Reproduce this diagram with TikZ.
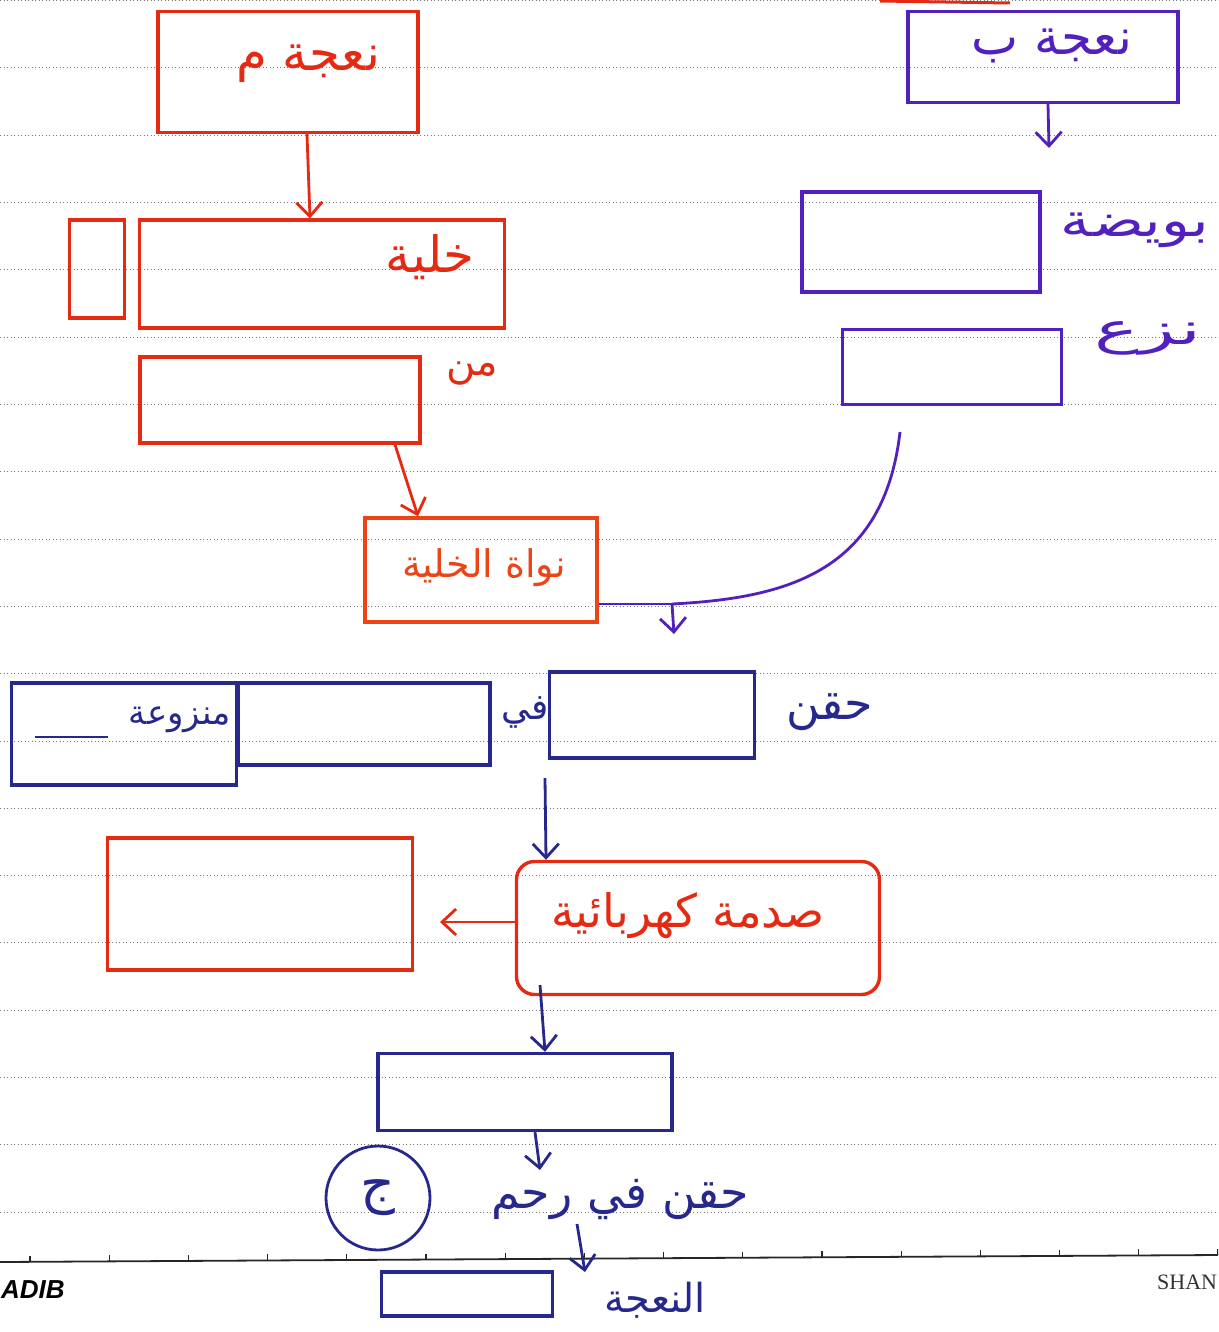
\documentclass[tikz,border=0pt]{standalone}
\usepackage{fontspec}
\setsansfont{Liberation Sans}
\newfontfamily\arabicfont[Script=Arabic]{DejaVu Sans}
\newfontfamily\brandserif{Liberation Serif}
\TeXXeTstate=1
\usetikzlibrary{arrows.meta,calc}
\definecolor{inkred}{RGB}{228,42,18}
\definecolor{inkorange}{RGB}{236,68,22}
\definecolor{inkpurple}{RGB}{82,32,190}
\definecolor{inknavy}{RGB}{38,40,140}
\definecolor{ruling}{RGB}{120,120,120}
\newcommand\artext[1]{{\arabicfont\beginR #1\endR}}
\newcommand\fs[1]{\fontsize{#1}{#1}\selectfont}
\begin{document}
\begin{tikzpicture}[x=1pt,y=-1pt,
  inkbox/.style={draw, rectangle, line width=3.4pt, inner sep=0pt},
  redbox/.style={inkbox, draw=inkred},
  orangebox/.style={inkbox, draw=inkorange},
  purplebox/.style={inkbox, draw=inkpurple},
  navybox/.style={inkbox, draw=inknavy},
  word/.style={inner sep=0pt, font=\fs{34}},
  redword/.style={word, text=inkred},
  orangeword/.style={word, text=inkorange},
  purpleword/.style={word, text=inkpurple},
  navyword/.style={word, text=inknavy},
  tip/.style={-{Straight Barb[length=14pt,width=26pt]}, line width=2.8pt},
  redarrow/.style={tip, draw=inkred},
  purplearrow/.style={tip, draw=inkpurple},
  navyarrow/.style={tip, draw=inknavy},
  ruled/.style={draw=ruling, line width=1pt, dash pattern=on 1.2pt off 2.3pt}
]
\useasboundingbox (0,0) rectangle (1218,1332);
\fill[white] (0,0) rectangle (1218,1332);
\clip (0,0) rectangle (1218,1332);

% notebook ruling
\foreach \n in {0,...,18}
  \draw[ruled] (0,{0.7+67.3*\n}) -- (1218,{0.7+67.3*\n});
\draw[line width=1.8pt, black!85] (0,1262) -- (1218,1255);
\foreach \k in {0,...,15}
  \draw[line width=1.2pt, black!85] ({30+79.2*\k},{1262-7*(30+79.2*\k)/1218}) -- ++(0,-6);
\node[anchor=west, inner sep=0pt, font=\fontsize{26}{30}\sffamily\bfseries\itshape] (brandleft) at (1,1290) {ADIB};
\node[anchor=west, inner sep=0pt, text=black!80, font=\fontsize{22}{26}\brandserif] (brandright) at (1157,1282) {SHAN};
\draw[inkred, line width=3pt] (880,1) -- (1010,3);

% left branch: body cell of sheep M
\node[redbox, minimum width=260, minimum height=121] (sheepM) at (288,72) {};
\node[redword, font=\fs{50}] (sheepMtxt) at (308,64) {\artext{نعجة م}};
\node[redbox, minimum width=55, minimum height=98] (cellbar) at (97,269) {};
\node[redbox, minimum width=365, minimum height=108] (cell) at (322,274) {};
\node[redword, font=\fs{50}] (celltxt) at (430,257) {\artext{خلية}};
\node[redbox, minimum width=280, minimum height=86] (frombox) at (280,400) {};
\node[redword, font=\fs{40}] (fromtxt) at (472,374) {\artext{من}};
\node[orangebox, minimum width=232, minimum height=104] (nucleus) at (481,570) {};
\node[orangeword, font=\fs{38}] (nucleustxt) at (484,568) {\artext{نواة الخلية}};

\draw[redarrow] ([xshift=19]sheepM.south) -- ([xshift=-12]cell.north);
\draw[redarrow] ([xshift=115]frombox.south) -- ([xshift=-63]nucleus.north);

% right branch: egg of sheep B
\node[purplebox, minimum width=270, minimum height=91] (sheepB) at (1043,57) {};
\node[purpleword, font=\fs{50}] (sheepBtxt) at (1052,46) {\artext{نعجة ب}};
\node[purplebox, minimum width=238, minimum height=100] (egg) at (921,242) {};
\node[purpleword, font=\fs{46}] (eggtxt) at (1135,230) {\scalebox{1.3}[1]{\artext{بويضة}}};
\node[purplebox, minimum width=219, minimum height=75] (removal) at (952,367) {};
\node[purpleword, font=\fs{44}] (removaltxt) at (1148,338) {\scalebox{1.7}[1]{\artext{نزع}}};

\coordinate (eggarrowend) at (1049,148);
\draw[purplearrow] ([xshift=5]sheepB.south) -- (eggarrowend);

% joining the nucleus and the emptied egg
\coordinate (curvestart) at (900,432);
\coordinate (join) at (672,604);
\coordinate (jointip) at (674,634);
\draw[inkpurple, line width=2.8pt] (curvestart) .. controls (884,570) and (790,598) .. (join);
\draw[inkpurple, line width=2.8pt] (nucleus.east |- join) -- (join);
\draw[purplearrow] (join) -- (jointip);

% injection row
\node[navybox, minimum width=225, minimum height=102] (enucleated) at (124,734) {};
\node[navyword] (enucleatedtxt) at (180,720) {\artext{منزوعة}};
\draw[inknavy, line width=2.8pt] (35,737) -- (108,737);
\node[navybox, minimum width=252, minimum height=82] (blankB) at (364,724) {};
\node[navyword, font=\fs{36}] (intxt) at (525,712) {\artext{في}};
\node[navybox, minimum width=205, minimum height=86] (blankC) at (652,715) {};
\node[navyword, font=\fs{46}] (injecttxt) at (830,712) {\artext{حقن}};

% electric shock
\node[redbox, rounded corners=18pt, minimum width=363, minimum height=133] (shock) at (698,928) {};
\node[redword, font=\fs{46}] (shocktxt) at (688,916) {\artext{صدمة كهربائية}};
\node[redbox, minimum width=305, minimum height=132] (result) at (260,904) {};
\coordinate (shockleft) at (440,922);
\draw[redarrow] ([yshift=6]shock.west) -- (shockleft);

\coordinate (rowdown) at (545,778);
\draw[navyarrow] (rowdown) -- ([xshift=-152]shock.north);

\node[navybox, minimum width=294, minimum height=77] (fused) at (525,1092) {};
\coordinate (shockdown) at (540,985);
\draw[navyarrow] (shockdown) -- ([xshift=20]fused.north);

% implantation and birth
\node[circle, draw=inknavy, line width=2.8pt, minimum size=104, inner sep=0pt, text=inknavy, font=\fs{54}] (jeem) at (378,1198) {\artext{ج}};
\node[navyword, font=\fs{46}] (uterustxt) at (620,1200) {\artext{حقن في رحم}};
\coordinate (uterusarrow) at (540,1170);
\draw[navyarrow] ([xshift=10]fused.south) -- (uterusarrow);

\node[navybox, minimum width=171, minimum height=44] (lamb) at (467,1294) {};
\node[navyword, font=\fs{40}] (lambtxt) at (655,1300) {\artext{النعجة}};
\coordinate (ewestart) at (577,1224);
\coordinate (eweend) at (585,1272);
\draw[navyarrow] (ewestart) -- (eweend);
\end{tikzpicture}
\end{document}
